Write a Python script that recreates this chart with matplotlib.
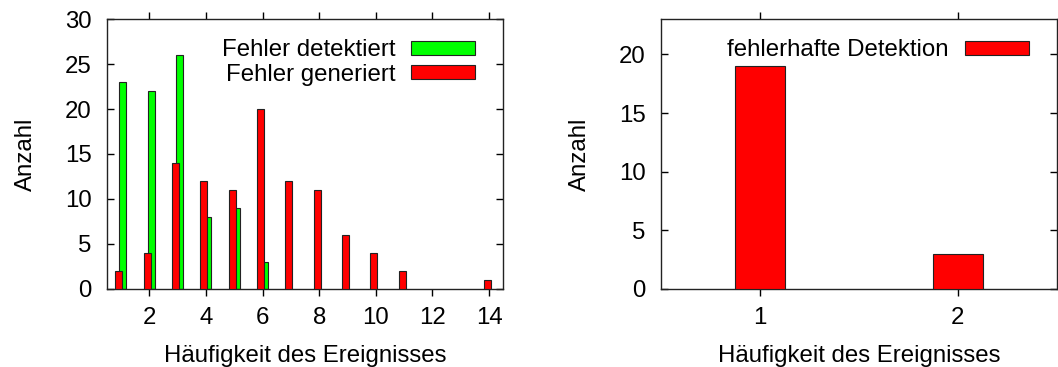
#!/usr/bin/env python3
"""Histogramme: wie oft ein Ereignis auftritt, bis der Fehler erkannt bzw. erzeugt wird."""

import matplotlib

matplotlib.use("Agg")
import matplotlib.pyplot as plt
import numpy as np
from matplotlib.transforms import ScaledTranslation

# linke Grafik: Fehler detektiert / generiert
detected_x = [1, 2, 3, 4, 5, 6]
detected_n = [23, 22, 26, 8, 9, 3]
generated_x = [1, 2, 3, 4, 5, 6, 7, 8, 9, 10, 11, 14]
generated_n = [2, 4, 14, 12, 11, 20, 12, 11, 6, 4, 2, 1]

# rechte Grafik: fehlerhafte Detektion
false_x = [1, 2]
false_n = [19, 3]

GREEN = "#00ff00"
RED = "#ff0000"
W, H = 1058, 367

plt.rcParams.update(
    {
        "font.family": ["Liberation Sans", "DejaVu Sans"],
        "font.size": 17.3,
        "axes.linewidth": 1.0,
        "axes.edgecolor": "#222222",
    }
)


def _frame(ax):
    ax.tick_params(axis="x", direction="out", length=5, top=True, width=1, pad=8)
    ax.tick_params(axis="y", direction="in", length=5, right=True, width=1, pad=11)
    ax.set_xlabel("Häufigkeit des Ereignisses", labelpad=12)
    ax.set_ylabel("Anzahl", labelpad=20)


def _legend(ax, fig):
    # obere rechte Ecke, in Pixeln nach innen versetzt
    shift = ScaledTranslation(-28 / 100, -20 / 100, fig.dpi_scale_trans)
    ax.legend(
        loc="upper right",
        bbox_to_anchor=(1.0, 1.0),
        bbox_transform=ax.transAxes + shift,
        frameon=False,
        markerfirst=False,
        handlelength=2.67,
        handleheight=0.5,
        handletextpad=0.66,
        labelspacing=0.1,
        borderpad=0.0,
        borderaxespad=0.0,
    )


fig = plt.figure(figsize=(W / 100, H / 100), dpi=100)

ax1 = fig.add_axes([106.7 / W, (H - 288.7) / H, (503.3 - 106.7) / W, (288.7 - 19.3) / H])
bar_kw = dict(width=0.25, edgecolor="#222222", linewidth=0.8)
ax1.bar(np.array(detected_x) + 0.07, detected_n, color=GREEN, label="Fehler detektiert", zorder=2, **bar_kw)
ax1.bar(np.array(generated_x) - 0.07, generated_n, color=RED, label="Fehler generiert", zorder=3, **bar_kw)
ax1.set_xlim(0.5, 14.5)
ax1.set_ylim(0, 30)
ax1.set_xticks(range(2, 15, 2))
ax1.set_yticks(range(0, 31, 5))
_frame(ax1)
_legend(ax1, fig)

ax2 = fig.add_axes([660.7 / W, (H - 288.7) / H, (1057 - 660.7) / W, (288.7 - 19.3) / H])
ax2.bar(false_x, false_n, color=RED, label="fehlerhafte Detektion", zorder=3, **bar_kw)
ax2.set_xlim(0.5, 2.5)
ax2.set_ylim(0, 23)
ax2.set_xticks(false_x)
ax2.set_yticks(range(0, 21, 5))
_frame(ax2)
_legend(ax2, fig)

fig.savefig("out.png", dpi=100, facecolor="white")
